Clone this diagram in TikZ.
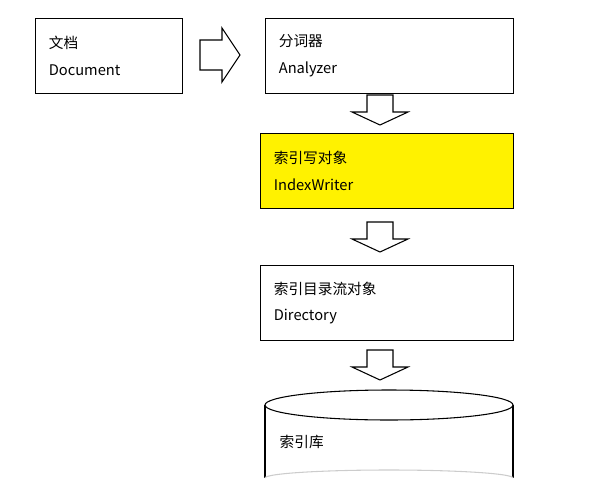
\documentclass[tikz,border=0pt]{standalone}
\usepackage{fontspec}
\setmainfont{Noto Sans CJK SC}
\usetikzlibrary{calc}
\usetikzlibrary{positioning}

\tikzset{
  stagebox/.style={draw, thick, anchor=north west, minimum height=56pt, inner xsep=10pt,
    align=left, text width=#1, font=\fontsize{11}{20}\selectfont},
  blockarrow/.style={draw, thick, fill=white},
}

\begin{document}
\begin{tikzpicture}[x=0.75pt, y=-0.75pt]
\useasboundingbox (0,0) rectangle (600,493);

\node[stagebox=90pt] (doc) at (35,18) {文档\\Document};
\node[stagebox=166pt] (ana) at (265,18) {分词器\\Analyzer};
\node[stagebox=170pt, fill=yellow] (iw) at (260,133) {索引写对象\\IndexWriter};
\node[stagebox=170pt] (dir) at (260,265) {索引目录流对象\\Directory};

% right arrow between doc and ana
\draw[blockarrow] (200,40) -- (222,40) -- (222,28) -- (240,55) -- (222,82) -- (222,70) -- (200,70) -- cycle;

% down arrows
\foreach \yy in {95, 222, 350}
\draw[blockarrow] (367,\yy) -- (393,\yy) -- ($(393,\yy)+(0,17)$) -- ($(408,\yy)+(0,17)$)
  -- ($(380,\yy)+(0,30)$) -- ($(352,\yy)+(0,17)$) -- ($(367,\yy)+(0,17)$) -- cycle;

% cylinder
\draw[thick] (265,405) -- (265,478);
\draw[thick] (513,405) -- (513,478);
\draw[thick, fill=white] (389,405) ellipse [x radius=124, y radius=15];
\draw[gray!40, thick] (265,478) arc [start angle=180, end angle=360, x radius=124, y radius=8];
\node[anchor=west, font=\fontsize{11}{20}\selectfont] (lib) at (275,442) {索引库};
\end{tikzpicture}
\end{document}
